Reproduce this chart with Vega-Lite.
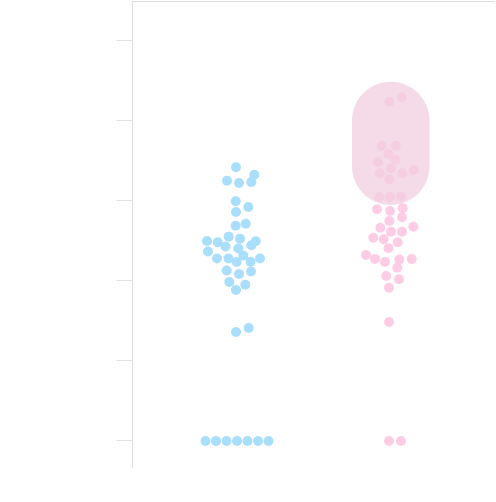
{
  "$schema": "https://vega.github.io/schema/vega-lite/v6.json",
  "width": 363,
  "height": 467,
  "autosize": {"type": "none"},
  "padding": {"left": 132, "top": 1, "right": 0, "bottom": 0},
  "background": "white",
  "config": {"view": {"stroke": "#dedede", "strokeWidth": 1}},
  "datasets": {
    "points": [
      {"group": "A", "x": 0.9934, "v": 3.409},
      {"group": "A", "x": 1.1138, "v": 3.316},
      {"group": "A", "x": 0.9342, "v": 3.241},
      {"group": "A", "x": 1.0132, "v": 3.212},
      {"group": "A", "x": 1.0941, "v": 3.225},
      {"group": "A", "x": 0.9914, "v": 2.984},
      {"group": "A", "x": 1.0743, "v": 2.912},
      {"group": "A", "x": 0.9934, "v": 2.85},
      {"group": "A", "x": 1.0572, "v": 2.703},
      {"group": "A", "x": 0.9914, "v": 2.678},
      {"group": "A", "x": 0.9454, "v": 2.541},
      {"group": "A", "x": 1.0197, "v": 2.516},
      {"group": "A", "x": 0.8026, "v": 2.487},
      {"group": "A", "x": 0.873, "v": 2.471},
      {"group": "A", "x": 1.123, "v": 2.483},
      {"group": "A", "x": 0.9243, "v": 2.418},
      {"group": "A", "x": 1.0086, "v": 2.393},
      {"group": "A", "x": 1.0941, "v": 2.433},
      {"group": "A", "x": 0.8092, "v": 2.356},
      {"group": "A", "x": 1.0414, "v": 2.305},
      {"group": "A", "x": 0.8684, "v": 2.268},
      {"group": "A", "x": 0.9441, "v": 2.268},
      {"group": "A", "x": 0.998, "v": 2.224},
      {"group": "A", "x": 1.0888, "v": 2.228},
      {"group": "A", "x": 1.1513, "v": 2.268},
      {"group": "A", "x": 0.9322, "v": 2.118},
      {"group": "A", "x": 1.0132, "v": 2.074},
      {"group": "A", "x": 1.0921, "v": 2.105},
      {"group": "A", "x": 0.9493, "v": 1.974},
      {"group": "A", "x": 1.0546, "v": 1.94},
      {"group": "A", "x": 0.9934, "v": 1.874},
      {"group": "A", "x": 0.9934, "v": 1.349},
      {"group": "A", "x": 1.077, "v": 1.399},
      {"group": "A", "x": 0.7928, "v": -0.015},
      {"group": "A", "x": 0.8618, "v": -0.015},
      {"group": "A", "x": 0.9309, "v": -0.015},
      {"group": "A", "x": 1.0, "v": -0.015},
      {"group": "A", "x": 1.0691, "v": -0.015},
      {"group": "A", "x": 1.1382, "v": -0.015},
      {"group": "A", "x": 1.2072, "v": -0.015},
      {"group": "B", "x": 2.002, "v": 4.229},
      {"group": "B", "x": 2.0855, "v": 4.284},
      {"group": "B", "x": 1.952, "v": 3.679},
      {"group": "B", "x": 2.044, "v": 3.679},
      {"group": "B", "x": 1.9954, "v": 3.575},
      {"group": "B", "x": 2.044, "v": 3.5},
      {"group": "B", "x": 1.9257, "v": 3.471},
      {"group": "B", "x": 2.0132, "v": 3.396},
      {"group": "B", "x": 1.9388, "v": 3.334},
      {"group": "B", "x": 2.0875, "v": 3.334},
      {"group": "B", "x": 2.1625, "v": 3.375},
      {"group": "B", "x": 2.002, "v": 3.259},
      {"group": "B", "x": 1.9375, "v": 3.037},
      {"group": "B", "x": 2.0066, "v": 3.037},
      {"group": "B", "x": 2.0789, "v": 3.044},
      {"group": "B", "x": 1.9211, "v": 2.883},
      {"group": "B", "x": 2.0066, "v": 2.862},
      {"group": "B", "x": 2.0901, "v": 2.896},
      {"group": "B", "x": 2.002, "v": 2.737},
      {"group": "B", "x": 2.0855, "v": 2.783},
      {"group": "B", "x": 1.9428, "v": 2.653},
      {"group": "B", "x": 2.1599, "v": 2.666},
      {"group": "B", "x": 2.0132, "v": 2.603},
      {"group": "B", "x": 2.0855, "v": 2.603},
      {"group": "B", "x": 1.8967, "v": 2.528},
      {"group": "B", "x": 1.9651, "v": 2.508},
      {"group": "B", "x": 2.0572, "v": 2.471},
      {"group": "B", "x": 1.9967, "v": 2.396},
      {"group": "B", "x": 1.8487, "v": 2.312},
      {"group": "B", "x": 1.9079, "v": 2.262},
      {"group": "B", "x": 1.9737, "v": 2.224},
      {"group": "B", "x": 2.0678, "v": 2.255},
      {"group": "B", "x": 2.1493, "v": 2.262},
      {"group": "B", "x": 2.0546, "v": 2.153},
      {"group": "B", "x": 1.9822, "v": 2.049},
      {"group": "B", "x": 2.0658, "v": 2.008},
      {"group": "B", "x": 2.0, "v": 1.903},
      {"group": "B", "x": 2.0, "v": 1.474},
      {"group": "B", "x": 2.0, "v": -0.015},
      {"group": "B", "x": 2.0789, "v": -0.015}
    ],
    "highlight": [
      {"x": 1.7566, "x2": 2.2664, "v": 4.479, "v2": 2.937}
    ]
  },
  "layer": [
    {
      "data": {"name": "points"},
      "mark": {"type": "circle", "size": 100, "opacity": 1},
      "encoding": {
        "x": {"field": "x", "type": "quantitative", "scale": {"domain": [0.3092, 2.6974], "nice": false, "zero": false}, "axis": null},
        "y": {
          "field": "v", "type": "quantitative",
          "scale": {"domain": [-0.353, 5.489], "nice": false, "zero": false},
          "axis": {"values": [0, 1, 2, 3, 4, 5], "labels": false, "title": null, "domain": false, "grid": false, "tickSize": 16, "tickColor": "#e2e2e2", "tickWidth": 1}
        },
        "color": {"field": "group", "type": "nominal", "scale": {"domain": ["A", "B"], "range": ["#a9dffc", "#ffcce5"]}, "legend": null}
      }
    },
    {
      "data": {"name": "highlight"},
      "mark": {"type": "rect", "cornerRadius": 39, "color": "#f1cfe0", "opacity": 0.75},
      "encoding": {
        "x": {"field": "x", "type": "quantitative"},
        "x2": {"field": "x2"},
        "y": {"field": "v", "type": "quantitative"},
        "y2": {"field": "v2"}
      }
    }
  ]
}
